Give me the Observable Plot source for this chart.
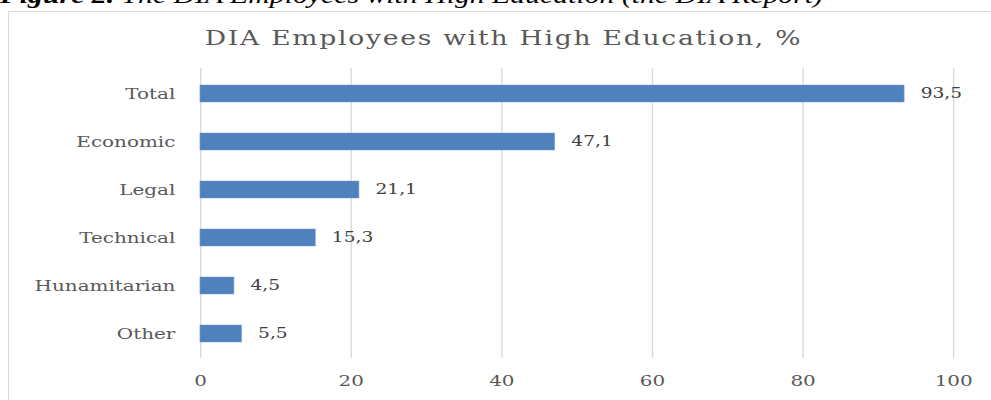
<!DOCTYPE html>
<html>
<head>
<meta charset="utf-8">
<script src="https://cdn.jsdelivr.net/npm/d3@7"></script>
<script src="https://cdn.jsdelivr.net/npm/@observablehq/plot@0.6"></script>
<style>
  html, body { margin: 0; padding: 0; background: #fff; overflow: hidden; }
  #wrap { position: relative; width: 991px; height: 400px; overflow: hidden; }
  #frame { position: absolute; left: 8px; top: 11px; width: 1000px; height: 420px; border: 1px solid #d9d9d9; box-sizing: border-box; }
  #caption { position: absolute; left: 0; top: -17px; font-family: "Liberation Serif", serif; font-size: 24px; font-style: italic; white-space: nowrap; color: #000; line-height: 1; transform: scaleX(1.24); transform-origin: 0 0; }
  #caption b { font-weight: bold; }
  #stretch { position: absolute; left: 0; top: 0; width: 745px; height: 400px; transform: scaleX(1.3302); transform-origin: 0 0; }
  #title { position: absolute; left: 6px; width: 745px; top: 28px; text-align: center; font-family: "DejaVu Serif", serif; font-size: 20px; letter-spacing: 1.3px; color: #595959; white-space: nowrap; line-height: 1; }
  #chart { position: absolute; left: 0; top: 0; }
</style>
</head>
<body>
<div id="wrap">
  <div id="frame"></div>
  <div id="caption"><b>Figure 2.</b> The DIA Employees with High Education (the DIA Report)</div>
  <div id="stretch">
    <div id="chart"></div>
    <div id="title">DIA Employees with High Education, %</div>
  </div>
</div>
<script>
const categories = ["Total", "Economic", "Legal", "Technical", "Hunamitarian", "Other"];
const values = [93.5, 47.1, 21.1, 15.3, 4.5, 5.5];
const xTicks = [0, 20, 40, 60, 80, 100];

const data = categories.map((c, i) => ({category: c, value: values[i]}));
const fmt = v => v.toFixed(1).replace(".", ",");

const chart = Plot.plot({
  width: 745,
  height: 400,
  marginTop: 68,
  marginBottom: 42,
  marginLeft: 150.35,
  marginRight: 28.57,
  style: { fontFamily: "DejaVu Serif, serif", fontSize: "14px", color: "#595959", background: "transparent" },
  x: { domain: [0, 100], ticks: xTicks, label: null },
  y: { domain: categories, paddingInner: 0.65, paddingOuter: 0.325, label: null },
  marks: [
    Plot.ruleX(xTicks, { stroke: "#d9d9d9", strokeWidth: 1 }),
    Plot.barX(data, { x: "value", y: "category", fill: "#4f81bd", stroke: "#6f9bd1", strokeWidth: 0.5 }),
    Plot.text(data, { x: "value", y: "category", text: d => fmt(d.value), textAnchor: "start", dx: 12, fill: "#404040", fontSize: 14 }),
    Plot.axisX(xTicks, { tickSize: 0, tickPadding: 17, fontSize: 15, fill: "#595959", label: null }),
    Plot.axisY({ tickSize: 0, tickPadding: 19, fontSize: 15, fill: "#595959", label: null })
  ]
});
document.getElementById("chart").appendChild(chart);
</script>
</body>
</html>
